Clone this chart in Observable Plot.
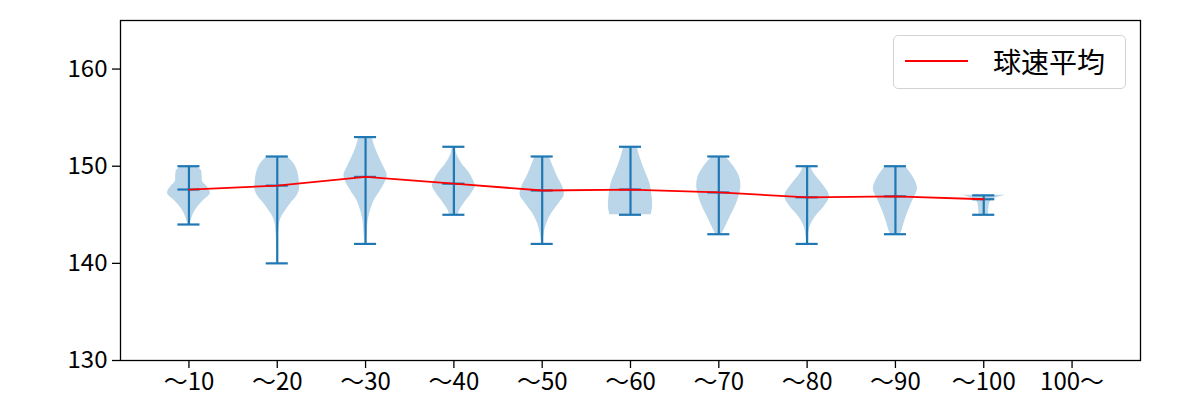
<!DOCTYPE html>
<html><head><meta charset="utf-8">
<script src="https://cdn.jsdelivr.net/npm/d3@7"></script>
<script src="https://cdn.jsdelivr.net/npm/@observablehq/plot@0.6"></script>
<style>
body{margin:0;background:#fff}
#wrap{position:relative;width:1200px;height:400px;font-family:"Noto Sans CJK JP","Noto Sans",sans-serif}
.legend{position:absolute;left:893px;top:35px;width:233px;height:54px;box-sizing:border-box;border:1px solid #d3d3d3;border-radius:5px;background:rgba(255,255,255,0.8)}
.legend .swatch{position:absolute;left:11px;top:24px;width:63px;height:2px;background:red}
.legend .txt{position:absolute;left:99px;top:5px;font-size:28px;line-height:40px;color:#000;white-space:nowrap}
</style>
</head><body><div id="wrap"></div><script>
// categories (x tick labels)
const categories = ["～10","～20","～30","～40","～50","～60","～70","～80","～90","～100","100～"];
// summary values per category (only the first 10 have data)
const maxs  = [150, 151, 153, 152, 151, 152, 151, 150, 150, 147];
const mins  = [144, 140, 142, 145, 142, 145, 143, 142, 143, 145];
const means = [147.6, 148.0, 148.9, 148.2, 147.5, 147.6, 147.3, 146.8, 146.9, 146.6];
// violin density profiles: speed -> relative half width (max = 1)
const profileSpeeds = [
  [144,144.4,145.1,145.8,146.5,147.2,147.9,148.4,149.0,149.6,150],
  [140,141,142,143,144.1,144.8,145.5,146.2,146.8,147.5,148.6,149.6,150.3,151],
  [142,143.1,144.4,145.5,146.5,147.5,148.4,149.1,149.9,151.0,152.0,153],
  [145,145.5,146.3,147.2,147.9,148.2,149.2,150.3,151.3,152],
  [142,143.1,144.1,145.1,146.2,147.0,147.9,148.9,149.9,151],
  [145,145.1,145.8,146.8,148.2,149.6,151.0,152],
  [143,143.7,144.8,145.8,146.8,147.9,148.9,149.9,151],
  [142,142.7,143.7,144.8,145.8,146.7,147.2,148.2,149.2,150],
  [143,143.4,144.4,145.5,146.5,147.7,148.9,150],
  [145,145.1,145.8,146.3,146.7,147]
];
const profileWidths = [
  [0.05,0.1,0.21,0.4,0.67,0.97,0.82,0.62,0.6,0.55,0.3],
  [0.02,0.02,0.03,0.05,0.1,0.2,0.4,0.62,0.85,1.0,0.99,0.9,0.74,0.45],
  [0.03,0.07,0.12,0.23,0.4,0.68,0.9,0.98,0.83,0.6,0.42,0.3],
  [0.2,0.27,0.5,0.8,0.97,0.95,0.73,0.35,0.12,0.08],
  [0.03,0.09,0.21,0.42,0.77,1.0,0.92,0.7,0.51,0.32],
  [0.94,0.95,1.0,0.98,0.88,0.64,0.42,0.3],
  [0.14,0.29,0.52,0.74,0.9,1.0,0.94,0.7,0.3],
  [0.03,0.05,0.12,0.38,0.76,1.0,0.98,0.68,0.33,0.15],
  [0.23,0.3,0.43,0.6,0.79,1.0,0.8,0.45],
  [0.2,0.21,0.24,0.29,0.52,1.0]
];
const yTicks = [130, 140, 150, 160];
const legendLabel = "球速平均";

const HALF = 0.25, CAP = 0.125, C0 = "#1f77b4";
const summary = means.map((m, i) => ({pos: i + 1, max: maxs[i], min: mins[i], mean: m}));
const violinRows = [];
profileSpeeds.forEach((sp, i) => sp.forEach((s, j) => violinRows.push({pos: i + 1, speed: s, w: profileWidths[i][j]})));
const positions = categories.map((_, i) => i + 1);

const chart = Plot.plot({
  width: 1200, height: 400,
  marginLeft: 120, marginRight: 60, marginTop: 20, marginBottom: 40,
  style: {fontFamily: '"Noto Sans CJK JP","Noto Sans",sans-serif', fontSize: "24px", color: "#000", background: "#fff"},
  x: {domain: [0.225, 11.775], label: null},
  y: {domain: [130, 165], label: null},
  marks: [
    Plot.areaX(violinRows, {y: "speed", x1: d => d.pos - d.w * HALF, x2: d => d.pos + d.w * HALF, z: "pos", fill: C0, fillOpacity: 0.3, curve: "catmull-rom"}),
    Plot.ruleX(summary, {x: "pos", y1: "min", y2: "max", stroke: C0, strokeWidth: 2.2}),
    Plot.ruleY(summary, {y: "max", x1: d => d.pos - CAP, x2: d => d.pos + CAP, stroke: C0, strokeWidth: 2.2}),
    Plot.ruleY(summary, {y: "min", x1: d => d.pos - CAP, x2: d => d.pos + CAP, stroke: C0, strokeWidth: 2.2}),
    Plot.ruleY(summary, {y: "mean", x1: d => d.pos - CAP, x2: d => d.pos + CAP, stroke: C0, strokeWidth: 2.2}),
    Plot.line(summary, {x: "pos", y: "mean", stroke: "red", strokeWidth: 1.8}),
    Plot.axisY({ticks: yTicks, tickSize: 8, tickPadding: 5, strokeWidth: 1.3, fontSize: 24, label: null}),
    Plot.axisX({ticks: positions, tickFormat: d => categories[d - 1], tickSize: 8, tickPadding: 4, strokeWidth: 1.3, fontSize: 24, label: null}),
    Plot.frame({stroke: "#000", strokeWidth: 1.3})
  ]
});
const wrap = document.getElementById("wrap");
wrap.appendChild(chart);
const lg = document.createElement("div");
lg.className = "legend";
lg.innerHTML = '<div class="swatch"></div><div class="txt"></div>';
lg.querySelector(".txt").textContent = legendLabel;
wrap.appendChild(lg);
</script></body></html>
